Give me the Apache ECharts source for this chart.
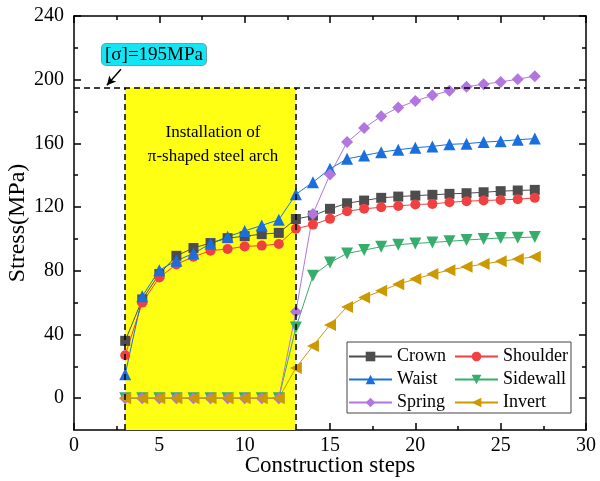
<!DOCTYPE html>
<html>
<head>
<meta charset="utf-8">
<script src="https://cdn.jsdelivr.net/npm/echarts@6/dist/echarts.min.js"></script>
<style>
html,body{margin:0;padding:0;background:#fff;}
#chart{width:600px;height:481px;}
</style>
</head>
<body>
<div id="chart"></div>
<script>
// ---- data ----
var steps = [3,4,5,6,7,8,9,10,11,12,13,14,15,16,17,18,19,20,21,22,23,24,25,26,27];
var crown    = [36,62,78,89.4,94.3,97.4,100.5,101.7,103,103.8,112.5,114.6,118.9,122.4,124.1,125.8,126.6,127.2,127.7,128.3,128.7,129.3,130,130.4,130.8];
var shoulder = [27,60,75.8,84,88.8,92.6,93.7,95.3,95.8,96.8,106.4,109,112.6,117.4,118.9,119.9,120.7,121.6,122,123,123.7,124.1,124.5,124.9,125.8];
var waist    = [15,64,80.4,86.3,90.9,97,101.4,105,108.5,112,128,135.6,144,150.3,152.4,154.5,156,157.3,158.1,159.4,159.8,160.8,161.4,162.3,163];
var sidewall = [0,0,0,0,0,0,0,0,0,0,44.3,76.9,85.2,90.9,93,95.1,96.4,97.2,97.8,98.5,99.3,100,100.6,100.8,101.2];
var spring   = [0,0,0,0,0,0,0,0,0,0,54.2,115.7,140.5,160.8,169.7,177,182.5,186.6,190.2,193,195.5,197.2,198.6,200.3,202.2];
var invert   = [0,0,0,0,0,0,0,0,0,0,19,32.8,46,57.3,63.2,67.4,71.6,74.8,77.9,80.4,82.5,84.2,85.9,87.4,88.8];
var seriesNames = ['Crown','Shoulder','Waist','Sidewall','Spring','Invert'];
var yMajorTicks = [0,40,80,120,160,200,240];
var yMinorTicks = [20,60,100,140,180,220];
var allowableStress = 195;
var installStart = 3, installEnd = 13;

var FONT = "'Liberation Serif','Times New Roman',serif";

function pairs(vals){ return steps.map(function(s,i){ return [s, vals[i]]; }); }

var styles = {
  Crown:    {color:'#4d4d4d', symbol:'rect', size:10, rot:0},
  Shoulder: {color:'#f0403f', symbol:'circle', size:10, rot:0},
  Waist:    {color:'#1a6fdf', symbol:'triangle', size:12, rot:0},
  Sidewall: {color:'#37ad6b', symbol:'triangle', size:12, rot:180},
  Spring:   {color:'#b177de', symbol:'diamond', size:12, rot:0},
  Invert:   {color:'#cc9900', symbol:'triangle', size:12, rot:90}
};
var values = {Crown:crown, Shoulder:shoulder, Waist:waist, Sidewall:sidewall, Spring:spring, Invert:invert};

var chart = echarts.init(document.getElementById('chart'), null, {renderer:'canvas'});

var axisLineStyle = {color:'#000', width:1.5};
function xAx(pos, showLabel){
  return {
    type:'value', gridIndex:0, position:pos, min:0, max:30, interval:5,
    axisLine:{show:true, onZero:false, lineStyle:axisLineStyle},
    axisTick:{show:true, inside:true, length:7, lineStyle:{color:'#000', width:1.5}},
    minorTick:{show:true, splitNumber:2, length:4, lineStyle:{color:'#000', width:1.5}},
    splitLine:{show:false}, minorSplitLine:{show:false},
    axisLabel:{show:showLabel, fontFamily:FONT, fontSize:20, color:'#000', margin:6},
    name: showLabel ? 'Construction steps' : '',
    nameLocation:'middle', nameGap:24, nameMoveOverlap:false,
    nameTextStyle:{fontFamily:FONT, fontSize:23, color:'#000'}
  };
}
function yAx(pos, showLabel, grid, ticks, len, showLine){
  return {
    type:'value', gridIndex:grid, position:pos, min:-20, max:240, interval:20,
    axisLine:{show:showLine, onZero:false, lineStyle:axisLineStyle},
    axisTick:{show:true, inside:true, length:len, customValues:ticks, lineStyle:{color:'#000', width:1.5}},
    splitLine:{show:false},
    axisLabel:{show:showLabel, customValues:yMajorTicks, fontFamily:FONT, fontSize:20, color:'#000', margin:10},
    name: showLabel ? 'Stress(MPa)' : '',
    nameLocation:'middle', nameGap:44, nameMoveOverlap:false,
    nameTextStyle:{fontFamily:FONT, fontSize:24, color:'#000'}
  };
}

var series = seriesNames.map(function(n){
  var st = styles[n];
  return {
    name:n, type:'line', xAxisIndex:0, yAxisIndex:0,
    data:pairs(values[n]),
    symbol:st.symbol, symbolSize:st.size, symbolRotate:st.rot,
    showAllSymbol:true,
    lineStyle:{color:st.color, width:1},
    itemStyle:{color:st.color},
    emphasis:{disabled:true},
    z:3
  };
});

// helper series: yellow zone + dashed lines + arrow
var dashStyle = {color:'#000', width:1.5, type:[6,4]};
series.unshift({
  name:'zone', type:'line', xAxisIndex:0, yAxisIndex:0, data:[], z:1, silent:true,
  markArea:{
    silent:true,
    itemStyle:{color:'#ffff14'},
    data:[[{coord:[installStart,-20]},{coord:[installEnd,allowableStress]}]]
  },
  markLine:{
    silent:true, symbol:['none','none'], label:{show:false},
    lineStyle:dashStyle,
    data:[
      [{coord:[0,allowableStress]},{coord:[30,allowableStress]}],
      [{coord:[installStart,-20]},{coord:[installStart,allowableStress]}],
      [{coord:[installEnd,-20]},{coord:[installEnd,allowableStress]}]
    ]
  }
});
series.push({
  name:'arrow', type:'line', xAxisIndex:0, yAxisIndex:0, data:[], z:5, silent:true,
  markLine:{
    silent:true, symbol:['none','arrow'], symbolSize:[7,9], label:{show:false},
    lineStyle:{color:'#000', width:1.5, type:'solid'},
    data:[[{coord:[2.75,206.6]},{coord:[1.93,196.5]}]]
  }
});

var gridBox = {left:74, right:14, top:16, bottom:51, containLabel:false, outerBoundsMode:'none'};
var option = {
  backgroundColor:'#fff',
  animation:false,
  grid:[
    Object.assign({}, gridBox),
    Object.assign({}, gridBox)
  ],
  xAxis:[
    xAx('bottom', true),
    xAx('top', false),
    {type:'value', gridIndex:1, min:0, max:30, show:false}
  ],
  yAxis:[
    yAx('left', true, 0, yMajorTicks, 7, true),
    yAx('right', false, 0, yMajorTicks, 7, true),
    yAx('left', false, 1, yMinorTicks, 4, false),
    yAx('right', false, 1, yMinorTicks, 4, false)
  ],
  legend:{
    data:seriesNames,
    left:347, top:342, width:220, orient:'horizontal',
    itemWidth:43, itemHeight:12, itemGap:4,
    padding:[5,3,1,1],
    borderColor:'#444', borderWidth:1,
    textStyle:{fontFamily:FONT, fontSize:18, color:'#000', width:53, lineHeight:19},
    selectedMode:false
  },
  graphic:[
    {
      type:'text', left:101, top:43, z:10,
      style:{
        text:'[σ]=195MPa', font:"19px 'Liberation Serif','Times New Roman',serif",
        fill:'#000', backgroundColor:'#12e6f5', borderColor:'#6f9fa8', borderWidth:1,
        borderRadius:4, padding:[1,3,0,3], lineHeight:20
      }
    },
    {
      type:'text', x:213, y:145, z:10,
      style:{
        text:'Installation of\nπ-shaped steel arch', font:"17px 'Liberation Serif','Times New Roman',serif",
        fill:'#000', align:'center', verticalAlign:'middle', lineHeight:24
      }
    }
  ],
  series:series
};
chart.setOption(option);
</script>
</body>
</html>
